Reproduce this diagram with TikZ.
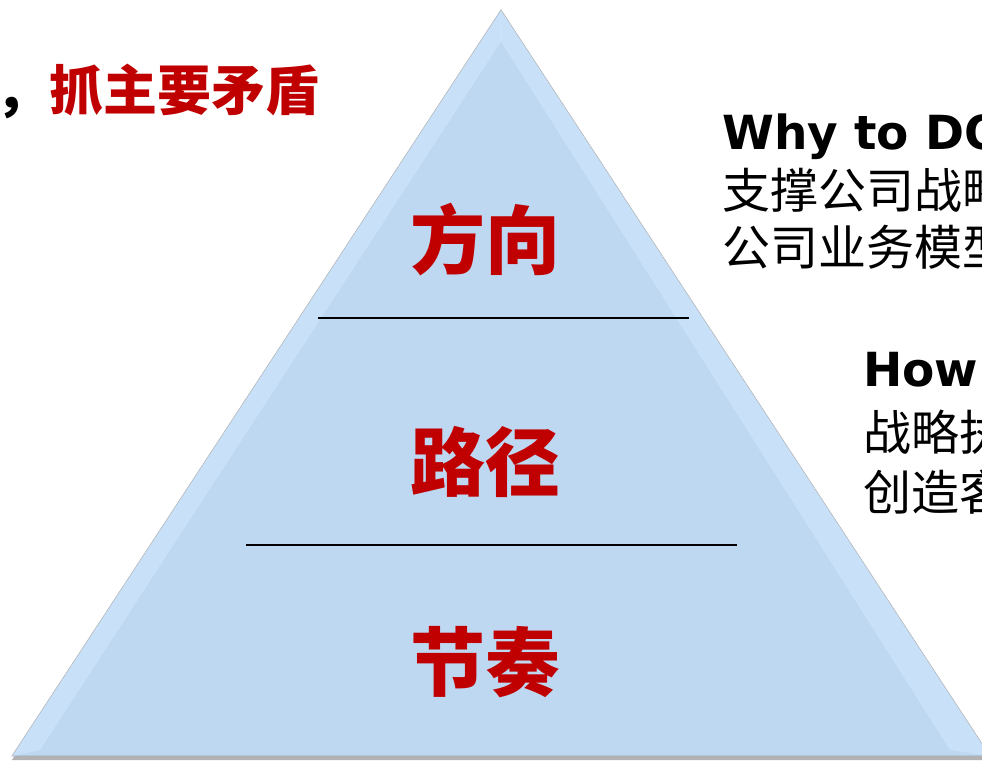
\documentclass[tikz,border=0pt]{standalone}
\usepackage{fontspec}
\newfontfamily\cjk{Noto Sans CJK SC}
\newfontfamily\latin{DejaVu Sans}
\usetikzlibrary{positioning}
\definecolor{titlered}{RGB}{192,0,0}
\definecolor{pyrblue}{RGB}{190,216,242}
\definecolor{pyrlight}{RGB}{206,229,251}

\begin{document}
\begin{tikzpicture}[x=1pt, y=-1pt, every node/.style={inner sep=0pt, anchor=base},
    layer/.style={font=\cjk\bfseries\fontsize{75}{75}\selectfont, text=titlered},
    note/.style={font=\cjk\fontsize{48}{48}\selectfont, anchor=base west},
    head/.style={font=\latin\bfseries\fontsize{47}{47}\selectfont, anchor=base west},
    rule/.style={line width=2pt}]
    \useasboundingbox (0,0) rectangle (982,760);
    \clip (0,0) rectangle (982,760);
    \coordinate (top) at (501,10);
    \coordinate (bl) at (12,756);
    \coordinate (br) at (990,756);
    \fill[black!30] (12,760) -- (501,14) -- (990,760) -- cycle;
    \fill[pyrblue, draw=gray!70, line width=0.8pt] (top) -- (br) -- (bl) -- cycle;
    \fill[pyrlight, opacity=0.7] (top) -- (502,40) -- (40,750) -- (bl) -- cycle;
    \fill[pyrlight, opacity=0.7] (top) -- (500,40) -- (950,750) -- (br) -- cycle;
    \coordinate (l1a) at (318,318);
    \coordinate (l1b) at (689,318);
    \coordinate (l2a) at (246,545);
    \coordinate (l2b) at (737,545);
    \draw[rule] (l1a) -- (l1b);
    \draw[rule] (l2a) -- (l2b);
    \node[layer] (dir) at (485,268) {方向};
    \node[layer] (path) at (485,490) {路径};
    \node[layer] (pace) at (485,690) {节奏};
    \node[font=\cjk\bfseries\fontsize{54}{54}\selectfont, anchor=base west] (focus) at (-5,110) {，\textcolor{titlered}{抓主要矛盾}};
    \node[head] (why) at (722,149) {Why to DO};
    \node[note] (why1) at (722,208) {支撑公司战略};
    \node[note] (why2) at (722,265) {公司业务模型};
    \node[head] (how) at (863,386) {How};
    \node[note] (how1) at (863,450) {战略执};
    \node[note] (how2) at (863,510) {创造客};
\end{tikzpicture}
\end{document}
